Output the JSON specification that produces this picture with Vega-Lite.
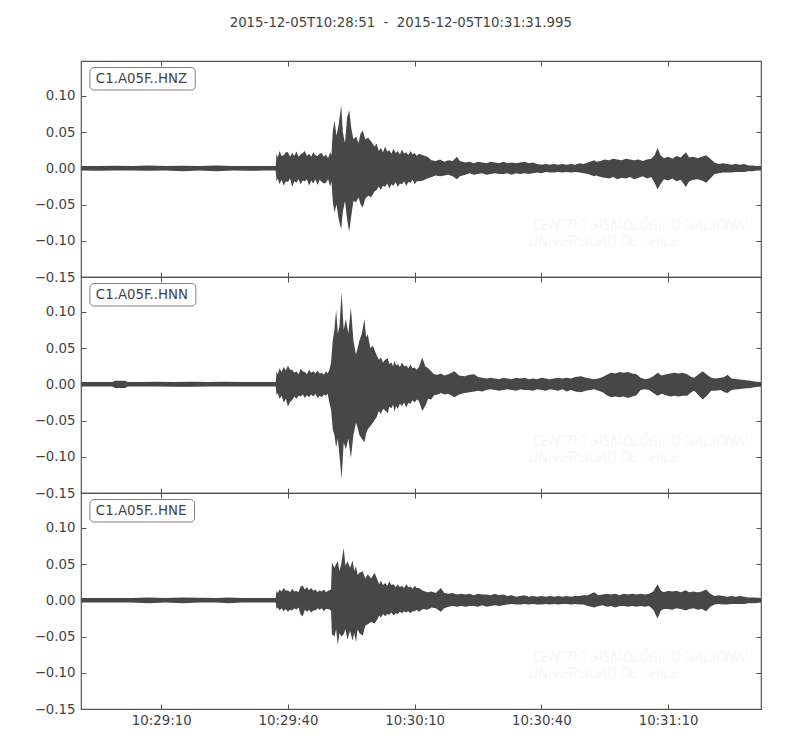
{
"$schema":"https://vega.github.io/schema/vega-lite/v6.json",
"padding":{"left":33,"top":15,"right":40,"bottom":20},
"spacing":0,
"bounds":"flush",
"title":{"text":"2015-12-05T10:28:51\u00a0 -\u00a0 2015-12-05T10:31:31.995","anchor":"middle","dx":3,"offset":31,"font":"DejaVu Sans","fontSize":13.33,"fontWeight":"normal","color":"#444444"},
"datasets":{"wm":[{"l1":"CENTRO SISMOLÓGICO NACIONAL","l2":"UNIVERSIDAD DE CHILE"}]},
"data":{"values":[
{"c":"Z","t":0,"hi":0.003,"lo":-0.003},{"c":"Z","t":4,"hi":0.003,"lo":-0.0035},{"c":"Z","t":8,"hi":0.0035,"lo":-0.003},{"c":"Z","t":12,"hi":0.003,"lo":-0.003},{"c":"Z","t":16,"hi":0.004,"lo":-0.0035},{"c":"Z","t":20,"hi":0.003,"lo":-0.003},{"c":"Z","t":24,"hi":0.0035,"lo":-0.004},{"c":"Z","t":28,"hi":0.003,"lo":-0.003},{"c":"Z","t":32,"hi":0.004,"lo":-0.004},{"c":"Z","t":36,"hi":0.003,"lo":-0.003},{"c":"Z","t":40,"hi":0.003,"lo":-0.0035},{"c":"Z","t":44,"hi":0.003,"lo":-0.003},{"c":"Z","t":46.1,"hi":0.003,"lo":-0.003},
{"c":"Z","t":46.3,"hi":0.020,"lo":-0.018},{"c":"Z","t":47,"hi":0.024,"lo":-0.022},{"c":"Z","t":48,"hi":0.018,"lo":-0.024},{"c":"Z","t":49,"hi":0.022,"lo":-0.019},{"c":"Z","t":50,"hi":0.021,"lo":-0.026},{"c":"Z","t":51,"hi":0.023,"lo":-0.020},{"c":"Z","t":52,"hi":0.019,"lo":-0.022},{"c":"Z","t":53,"hi":0.024,"lo":-0.018},{"c":"Z","t":54,"hi":0.020,"lo":-0.024},{"c":"Z","t":55,"hi":0.022,"lo":-0.021},{"c":"Z","t":56,"hi":0.017,"lo":-0.023},{"c":"Z","t":57,"hi":0.021,"lo":-0.019},{"c":"Z","t":58,"hi":0.019,"lo":-0.020},{"c":"Z","t":59,"hi":0.022,"lo":-0.025},
{"c":"Z","t":46.6,"hi":0.015,"lo":-0.014},{"c":"Z","t":47.5,"hi":0.017,"lo":-0.016},{"c":"Z","t":48.5,"hi":0.022,"lo":-0.018},{"c":"Z","t":49.5,"hi":0.016,"lo":-0.014},{"c":"Z","t":50.5,"hi":0.017,"lo":-0.018},{"c":"Z","t":51.5,"hi":0.016,"lo":-0.015},{"c":"Z","t":52.5,"hi":0.021,"lo":-0.017},{"c":"Z","t":53.5,"hi":0.017,"lo":-0.015},{"c":"Z","t":54.5,"hi":0.016,"lo":-0.017},{"c":"Z","t":55.5,"hi":0.018,"lo":-0.015},{"c":"Z","t":56.5,"hi":0.020,"lo":-0.016},{"c":"Z","t":57.5,"hi":0.016,"lo":-0.021},{"c":"Z","t":58.5,"hi":0.014,"lo":-0.015},{"c":"Z","t":59.3,"hi":0.018,"lo":-0.018},
{"c":"Z","t":59.6,"hi":0.050,"lo":-0.045},{"c":"Z","t":60,"hi":0.066,"lo":-0.061},{"c":"Z","t":60.5,"hi":0.045,"lo":-0.050},{"c":"Z","t":61,"hi":0.060,"lo":-0.070},{"c":"Z","t":61.6,"hi":0.087,"lo":-0.084},{"c":"Z","t":62,"hi":0.050,"lo":-0.060},{"c":"Z","t":62.5,"hi":0.035,"lo":-0.045},{"c":"Z","t":63,"hi":0.070,"lo":-0.070},{"c":"Z","t":63.5,"hi":0.080,"lo":-0.088},{"c":"Z","t":64,"hi":0.055,"lo":-0.065},{"c":"Z","t":64.5,"hi":0.040,"lo":-0.045},{"c":"Z","t":65.1,"hi":0.044,"lo":-0.047},{"c":"Z","t":65.7,"hi":0.035,"lo":-0.040},{"c":"Z","t":66.2,"hi":0.048,"lo":-0.050},{"c":"Z","t":66.7,"hi":0.052,"lo":-0.054},{"c":"Z","t":67.3,"hi":0.040,"lo":-0.042},{"c":"Z","t":68,"hi":0.042,"lo":-0.038},{"c":"Z","t":68.7,"hi":0.037,"lo":-0.040},{"c":"Z","t":69.5,"hi":0.030,"lo":-0.032},{"c":"Z","t":70,"hi":0.034,"lo":-0.030},{"c":"Z","t":71,"hi":0.028,"lo":-0.030},{"c":"Z","t":72,"hi":0.030,"lo":-0.026},{"c":"Z","t":73,"hi":0.025,"lo":-0.028},{"c":"Z","t":74,"hi":0.027,"lo":-0.024},{"c":"Z","t":75,"hi":0.024,"lo":-0.026},{"c":"Z","t":76,"hi":0.026,"lo":-0.022},{"c":"Z","t":77,"hi":0.022,"lo":-0.024},{"c":"Z","t":78,"hi":0.024,"lo":-0.020},{"c":"Z","t":79,"hi":0.021,"lo":-0.022},{"c":"Z","t":80,"hi":0.020,"lo":-0.018},
{"c":"Z","t":70.5,"hi":0.024,"lo":-0.025},{"c":"Z","t":71.5,"hi":0.022,"lo":-0.024},{"c":"Z","t":72.5,"hi":0.023,"lo":-0.021},{"c":"Z","t":73.5,"hi":0.020,"lo":-0.022},{"c":"Z","t":74.5,"hi":0.021,"lo":-0.019},{"c":"Z","t":75.5,"hi":0.019,"lo":-0.021},{"c":"Z","t":76.5,"hi":0.020,"lo":-0.018},{"c":"Z","t":77.5,"hi":0.018,"lo":-0.019},{"c":"Z","t":78.5,"hi":0.019,"lo":-0.016},{"c":"Z","t":79.5,"hi":0.017,"lo":-0.018},
{"c":"Z","t":81,"hi":0.018,"lo":-0.017},{"c":"Z","t":82,"hi":0.016,"lo":-0.014},{"c":"Z","t":83,"hi":0.011,"lo":-0.012},{"c":"Z","t":84,"hi":0.010,"lo":-0.010},{"c":"Z","t":85,"hi":0.012,"lo":-0.011},{"c":"Z","t":86,"hi":0.009,"lo":-0.010},{"c":"Z","t":87,"hi":0.011,"lo":-0.009},{"c":"Z","t":88,"hi":0.010,"lo":-0.011},{"c":"Z","t":89,"hi":0.016,"lo":-0.015},{"c":"Z","t":89.7,"hi":0.010,"lo":-0.011},{"c":"Z","t":91,"hi":0.008,"lo":-0.009},{"c":"Z","t":92,"hi":0.009,"lo":-0.007},{"c":"Z","t":93,"hi":0.007,"lo":-0.009},{"c":"Z","t":94,"hi":0.009,"lo":-0.008},{"c":"Z","t":95,"hi":0.008,"lo":-0.007},{"c":"Z","t":96,"hi":0.007,"lo":-0.009},{"c":"Z","t":97,"hi":0.009,"lo":-0.008},{"c":"Z","t":98,"hi":0.008,"lo":-0.007},{"c":"Z","t":99,"hi":0.007,"lo":-0.008},{"c":"Z","t":100,"hi":0.009,"lo":-0.008},{"c":"Z","t":101,"hi":0.007,"lo":-0.007},{"c":"Z","t":102,"hi":0.008,"lo":-0.009},{"c":"Z","t":103,"hi":0.007,"lo":-0.007},{"c":"Z","t":104,"hi":0.008,"lo":-0.008},{"c":"Z","t":105,"hi":0.009,"lo":-0.007},{"c":"Z","t":106,"hi":0.007,"lo":-0.008},{"c":"Z","t":107,"hi":0.008,"lo":-0.007},{"c":"Z","t":108,"hi":0.006,"lo":-0.006},{"c":"Z","t":109,"hi":0.005,"lo":-0.007},{"c":"Z","t":110,"hi":0.006,"lo":-0.005},{"c":"Z","t":111,"hi":0.005,"lo":-0.006},{"c":"Z","t":112,"hi":0.006,"lo":-0.006},{"c":"Z","t":113,"hi":0.005,"lo":-0.005},{"c":"Z","t":114,"hi":0.006,"lo":-0.006},{"c":"Z","t":115,"hi":0.005,"lo":-0.005},{"c":"Z","t":116,"hi":0.006,"lo":-0.006},{"c":"Z","t":117,"hi":0.005,"lo":-0.005},{"c":"Z","t":118,"hi":0.007,"lo":-0.006},{"c":"Z","t":119,"hi":0.006,"lo":-0.007},{"c":"Z","t":120,"hi":0.008,"lo":-0.008},
{"c":"Z","t":121,"hi":0.010,"lo":-0.010},{"c":"Z","t":121.5,"hi":0.011,"lo":-0.011},{"c":"Z","t":122,"hi":0.009,"lo":-0.010},{"c":"Z","t":123,"hi":0.010,"lo":-0.012},{"c":"Z","t":124,"hi":0.012,"lo":-0.013},{"c":"Z","t":125,"hi":0.011,"lo":-0.014},{"c":"Z","t":126,"hi":0.013,"lo":-0.012},{"c":"Z","t":127,"hi":0.012,"lo":-0.015},{"c":"Z","t":128,"hi":0.011,"lo":-0.013},{"c":"Z","t":129,"hi":0.013,"lo":-0.014},{"c":"Z","t":130,"hi":0.012,"lo":-0.012},{"c":"Z","t":131,"hi":0.011,"lo":-0.015},{"c":"Z","t":132,"hi":0.012,"lo":-0.013},{"c":"Z","t":133,"hi":0.010,"lo":-0.011},{"c":"Z","t":134,"hi":0.012,"lo":-0.014},{"c":"Z","t":135,"hi":0.013,"lo":-0.012},{"c":"Z","t":135.8,"hi":0.018,"lo":-0.020},{"c":"Z","t":136.5,"hi":0.028,"lo":-0.029},{"c":"Z","t":137.2,"hi":0.018,"lo":-0.022},{"c":"Z","t":138,"hi":0.014,"lo":-0.015},{"c":"Z","t":139,"hi":0.016,"lo":-0.017},{"c":"Z","t":140,"hi":0.013,"lo":-0.014},{"c":"Z","t":141,"hi":0.017,"lo":-0.018},{"c":"Z","t":142,"hi":0.015,"lo":-0.016},{"c":"Z","t":143.2,"hi":0.022,"lo":-0.026},{"c":"Z","t":144,"hi":0.015,"lo":-0.018},{"c":"Z","t":145,"hi":0.016,"lo":-0.016},{"c":"Z","t":146,"hi":0.014,"lo":-0.015},{"c":"Z","t":147,"hi":0.016,"lo":-0.017},{"c":"Z","t":148,"hi":0.018,"lo":-0.020},{"c":"Z","t":149,"hi":0.013,"lo":-0.014},{"c":"Z","t":150,"hi":0.008,"lo":-0.008},{"c":"Z","t":151,"hi":0.006,"lo":-0.007},{"c":"Z","t":152,"hi":0.007,"lo":-0.006},{"c":"Z","t":153,"hi":0.006,"lo":-0.006},{"c":"Z","t":154,"hi":0.005,"lo":-0.006},{"c":"Z","t":155,"hi":0.006,"lo":-0.005},{"c":"Z","t":156,"hi":0.005,"lo":-0.005},{"c":"Z","t":157,"hi":0.006,"lo":-0.005},{"c":"Z","t":158,"hi":0.004,"lo":-0.004},{"c":"Z","t":159,"hi":0.004,"lo":-0.004},{"c":"Z","t":160,"hi":0.003,"lo":-0.003},{"c":"Z","t":160.99,"hi":0.003,"lo":-0.003},

{"c":"N","t":0,"hi":0.003,"lo":-0.003},{"c":"N","t":4,"hi":0.003,"lo":-0.003},{"c":"N","t":7.5,"hi":0.003,"lo":-0.003},{"c":"N","t":8,"hi":0.005,"lo":-0.005},{"c":"N","t":10.5,"hi":0.005,"lo":-0.005},{"c":"N","t":11,"hi":0.003,"lo":-0.003},{"c":"N","t":14,"hi":0.003,"lo":-0.003},{"c":"N","t":18,"hi":0.0035,"lo":-0.003},{"c":"N","t":22,"hi":0.003,"lo":-0.0035},{"c":"N","t":26,"hi":0.0035,"lo":-0.0035},{"c":"N","t":30,"hi":0.003,"lo":-0.003},{"c":"N","t":34,"hi":0.0035,"lo":-0.003},{"c":"N","t":38,"hi":0.003,"lo":-0.003},{"c":"N","t":42,"hi":0.003,"lo":-0.003},{"c":"N","t":46.1,"hi":0.003,"lo":-0.003},
{"c":"N","t":46.3,"hi":0.018,"lo":-0.015},{"c":"N","t":47,"hi":0.022,"lo":-0.020},{"c":"N","t":48,"hi":0.024,"lo":-0.025},{"c":"N","t":49,"hi":0.026,"lo":-0.031},{"c":"N","t":50,"hi":0.020,"lo":-0.022},{"c":"N","t":51,"hi":0.018,"lo":-0.020},{"c":"N","t":52,"hi":0.021,"lo":-0.017},{"c":"N","t":53,"hi":0.017,"lo":-0.019},{"c":"N","t":54,"hi":0.020,"lo":-0.018},{"c":"N","t":55,"hi":0.018,"lo":-0.017},{"c":"N","t":56,"hi":0.019,"lo":-0.019},{"c":"N","t":57,"hi":0.016,"lo":-0.018},{"c":"N","t":58,"hi":0.018,"lo":-0.016},{"c":"N","t":58.8,"hi":0.020,"lo":-0.025},
{"c":"N","t":46.6,"hi":0.014,"lo":-0.012},{"c":"N","t":47.5,"hi":0.017,"lo":-0.016},{"c":"N","t":48.5,"hi":0.019,"lo":-0.020},{"c":"N","t":49.5,"hi":0.020,"lo":-0.024},{"c":"N","t":50.5,"hi":0.016,"lo":-0.017},{"c":"N","t":51.5,"hi":0.014,"lo":-0.016},{"c":"N","t":52.5,"hi":0.018,"lo":-0.014},{"c":"N","t":53.5,"hi":0.014,"lo":-0.015},{"c":"N","t":54.5,"hi":0.016,"lo":-0.014},{"c":"N","t":55.5,"hi":0.015,"lo":-0.013},{"c":"N","t":56.5,"hi":0.015,"lo":-0.016},{"c":"N","t":57.5,"hi":0.013,"lo":-0.014},{"c":"N","t":58.4,"hi":0.015,"lo":-0.013},
{"c":"N","t":59.2,"hi":0.030,"lo":-0.035},{"c":"N","t":59.6,"hi":0.060,"lo":-0.062},{"c":"N","t":60,"hi":0.075,"lo":-0.070},{"c":"N","t":60.4,"hi":0.103,"lo":-0.087},{"c":"N","t":60.8,"hi":0.070,"lo":-0.075},{"c":"N","t":61.2,"hi":0.080,"lo":-0.099},{"c":"N","t":61.7,"hi":0.127,"lo":-0.131},{"c":"N","t":62.2,"hi":0.075,"lo":-0.080},{"c":"N","t":62.7,"hi":0.090,"lo":-0.090},{"c":"N","t":63.3,"hi":0.070,"lo":-0.075},{"c":"N","t":63.9,"hi":0.106,"lo":-0.102},{"c":"N","t":64.5,"hi":0.060,"lo":-0.070},{"c":"N","t":65.1,"hi":0.041,"lo":-0.053},{"c":"N","t":65.5,"hi":0.050,"lo":-0.060},{"c":"N","t":65.9,"hi":0.060,"lo":-0.070},{"c":"N","t":66.5,"hi":0.070,"lo":-0.075},{"c":"N","t":67.1,"hi":0.090,"lo":-0.080},{"c":"N","t":67.5,"hi":0.065,"lo":-0.068},{"c":"N","t":67.9,"hi":0.069,"lo":-0.062},{"c":"N","t":68.5,"hi":0.050,"lo":-0.058},{"c":"N","t":69.1,"hi":0.053,"lo":-0.053},{"c":"N","t":70,"hi":0.040,"lo":-0.045},{"c":"N","t":71,"hi":0.037,"lo":-0.041},{"c":"N","t":72,"hi":0.034,"lo":-0.036},{"c":"N","t":72.6,"hi":0.036,"lo":-0.040},{"c":"N","t":73.5,"hi":0.030,"lo":-0.033},{"c":"N","t":74.2,"hi":0.032,"lo":-0.038},{"c":"N","t":75,"hi":0.028,"lo":-0.034},{"c":"N","t":76,"hi":0.030,"lo":-0.030},{"c":"N","t":77,"hi":0.026,"lo":-0.032},{"c":"N","t":78,"hi":0.027,"lo":-0.027},{"c":"N","t":79,"hi":0.023,"lo":-0.025},{"c":"N","t":80,"hi":0.024,"lo":-0.023},
{"c":"N","t":70.5,"hi":0.034,"lo":-0.037},{"c":"N","t":71.5,"hi":0.030,"lo":-0.034},{"c":"N","t":73,"hi":0.028,"lo":-0.031},{"c":"N","t":73.9,"hi":0.025,"lo":-0.028},{"c":"N","t":74.6,"hi":0.026,"lo":-0.030},{"c":"N","t":75.5,"hi":0.024,"lo":-0.027},{"c":"N","t":76.5,"hi":0.025,"lo":-0.025},{"c":"N","t":77.5,"hi":0.022,"lo":-0.026},{"c":"N","t":78.5,"hi":0.022,"lo":-0.022},{"c":"N","t":79.5,"hi":0.020,"lo":-0.021},
{"c":"N","t":80.8,"hi":0.037,"lo":-0.037},{"c":"N","t":81.5,"hi":0.025,"lo":-0.030},{"c":"N","t":82.2,"hi":0.022,"lo":-0.020},{"c":"N","t":82.9,"hi":0.018,"lo":-0.021},{"c":"N","t":83.6,"hi":0.014,"lo":-0.015},{"c":"N","t":84.4,"hi":0.013,"lo":-0.014},{"c":"N","t":85.2,"hi":0.015,"lo":-0.012},{"c":"N","t":86,"hi":0.012,"lo":-0.014},{"c":"N","t":87,"hi":0.014,"lo":-0.013},{"c":"N","t":88.4,"hi":0.018,"lo":-0.018},{"c":"N","t":89.5,"hi":0.012,"lo":-0.014},{"c":"N","t":90.8,"hi":0.011,"lo":-0.012},{"c":"N","t":92,"hi":0.013,"lo":-0.011},{"c":"N","t":93.1,"hi":0.014,"lo":-0.010},{"c":"N","t":94,"hi":0.010,"lo":-0.009},{"c":"N","t":95,"hi":0.009,"lo":-0.010},{"c":"N","t":96,"hi":0.008,"lo":-0.008},{"c":"N","t":97,"hi":0.009,"lo":-0.007},{"c":"N","t":98,"hi":0.008,"lo":-0.008},{"c":"N","t":99,"hi":0.007,"lo":-0.009},{"c":"N","t":100,"hi":0.009,"lo":-0.008},{"c":"N","t":101,"hi":0.008,"lo":-0.007},{"c":"N","t":102,"hi":0.007,"lo":-0.008},{"c":"N","t":103,"hi":0.009,"lo":-0.009},{"c":"N","t":104,"hi":0.008,"lo":-0.007},{"c":"N","t":105,"hi":0.009,"lo":-0.008},{"c":"N","t":106,"hi":0.007,"lo":-0.008},{"c":"N","t":107,"hi":0.008,"lo":-0.009},{"c":"N","t":108,"hi":0.007,"lo":-0.007},{"c":"N","t":109,"hi":0.009,"lo":-0.008},{"c":"N","t":110,"hi":0.008,"lo":-0.009},{"c":"N","t":111,"hi":0.007,"lo":-0.007},{"c":"N","t":112,"hi":0.008,"lo":-0.008},{"c":"N","t":113,"hi":0.009,"lo":-0.009},{"c":"N","t":114,"hi":0.008,"lo":-0.007},{"c":"N","t":115,"hi":0.009,"lo":-0.010},{"c":"N","t":116,"hi":0.008,"lo":-0.008},{"c":"N","t":117,"hi":0.010,"lo":-0.010},{"c":"N","t":118.4,"hi":0.011,"lo":-0.011},{"c":"N","t":119.5,"hi":0.009,"lo":-0.009},{"c":"N","t":120.5,"hi":0.008,"lo":-0.008},{"c":"N","t":121.5,"hi":0.007,"lo":-0.007},{"c":"N","t":122.5,"hi":0.008,"lo":-0.009},{"c":"N","t":123.5,"hi":0.010,"lo":-0.011},{"c":"N","t":124.5,"hi":0.013,"lo":-0.015},{"c":"N","t":125.5,"hi":0.016,"lo":-0.018},{"c":"N","t":126.5,"hi":0.015,"lo":-0.017},{"c":"N","t":127.5,"hi":0.017,"lo":-0.018},{"c":"N","t":128.5,"hi":0.016,"lo":-0.017},{"c":"N","t":129.5,"hi":0.017,"lo":-0.019},{"c":"N","t":130.5,"hi":0.015,"lo":-0.017},{"c":"N","t":131.5,"hi":0.014,"lo":-0.015},{"c":"N","t":132.5,"hi":0.009,"lo":-0.008},{"c":"N","t":133.5,"hi":0.007,"lo":-0.007},{"c":"N","t":134.5,"hi":0.008,"lo":-0.008},{"c":"N","t":135.5,"hi":0.011,"lo":-0.012},{"c":"N","t":136.5,"hi":0.016,"lo":-0.016},{"c":"N","t":137.5,"hi":0.012,"lo":-0.013},{"c":"N","t":138.5,"hi":0.014,"lo":-0.015},{"c":"N","t":139.5,"hi":0.015,"lo":-0.017},{"c":"N","t":140.5,"hi":0.016,"lo":-0.016},{"c":"N","t":141.5,"hi":0.015,"lo":-0.017},{"c":"N","t":142.5,"hi":0.016,"lo":-0.016},{"c":"N","t":143.5,"hi":0.014,"lo":-0.016},{"c":"N","t":144.5,"hi":0.010,"lo":-0.011},{"c":"N","t":145.2,"hi":0.009,"lo":-0.009},{"c":"N","t":146.2,"hi":0.014,"lo":-0.015},{"c":"N","t":147.2,"hi":0.018,"lo":-0.021},{"c":"N","t":148.2,"hi":0.013,"lo":-0.016},{"c":"N","t":149.2,"hi":0.009,"lo":-0.009},{"c":"N","t":150.2,"hi":0.008,"lo":-0.009},{"c":"N","t":151.5,"hi":0.009,"lo":-0.008},{"c":"N","t":152.3,"hi":0.010,"lo":-0.011},{"c":"N","t":153.1,"hi":0.013,"lo":-0.012},{"c":"N","t":154,"hi":0.008,"lo":-0.008},{"c":"N","t":155.5,"hi":0.007,"lo":-0.007},{"c":"N","t":157,"hi":0.006,"lo":-0.006},{"c":"N","t":158.5,"hi":0.005,"lo":-0.005},{"c":"N","t":159.4,"hi":0.004,"lo":-0.004},{"c":"N","t":160.99,"hi":0.003,"lo":-0.003},

{"c":"E","t":0,"hi":0.003,"lo":-0.003},{"c":"E","t":4,"hi":0.003,"lo":-0.003},{"c":"E","t":8,"hi":0.003,"lo":-0.003},{"c":"E","t":12,"hi":0.003,"lo":-0.003},{"c":"E","t":16,"hi":0.004,"lo":-0.004},{"c":"E","t":20,"hi":0.003,"lo":-0.003},{"c":"E","t":24,"hi":0.004,"lo":-0.004},{"c":"E","t":28,"hi":0.0035,"lo":-0.003},{"c":"E","t":32,"hi":0.003,"lo":-0.003},{"c":"E","t":35,"hi":0.004,"lo":-0.004},{"c":"E","t":38,"hi":0.003,"lo":-0.003},{"c":"E","t":42,"hi":0.003,"lo":-0.003},{"c":"E","t":46.1,"hi":0.003,"lo":-0.003},
{"c":"E","t":46.3,"hi":0.013,"lo":-0.012},{"c":"E","t":47,"hi":0.015,"lo":-0.014},{"c":"E","t":48,"hi":0.017,"lo":-0.015},{"c":"E","t":49,"hi":0.014,"lo":-0.016},{"c":"E","t":50,"hi":0.016,"lo":-0.014},{"c":"E","t":51,"hi":0.013,"lo":-0.013},{"c":"E","t":52,"hi":0.019,"lo":-0.020},{"c":"E","t":52.5,"hi":0.020,"lo":-0.022},{"c":"E","t":53.5,"hi":0.018,"lo":-0.016},{"c":"E","t":54.5,"hi":0.017,"lo":-0.017},{"c":"E","t":55.5,"hi":0.015,"lo":-0.014},{"c":"E","t":56.5,"hi":0.014,"lo":-0.013},{"c":"E","t":57.5,"hi":0.015,"lo":-0.015},{"c":"E","t":58.5,"hi":0.013,"lo":-0.012},{"c":"E","t":59.2,"hi":0.015,"lo":-0.014},
{"c":"E","t":46.6,"hi":0.010,"lo":-0.010},{"c":"E","t":47.5,"hi":0.012,"lo":-0.011},{"c":"E","t":48.5,"hi":0.013,"lo":-0.012},{"c":"E","t":49.5,"hi":0.011,"lo":-0.013},{"c":"E","t":50.5,"hi":0.012,"lo":-0.011},{"c":"E","t":51.5,"hi":0.011,"lo":-0.010},{"c":"E","t":53,"hi":0.015,"lo":-0.013},{"c":"E","t":54,"hi":0.014,"lo":-0.013},{"c":"E","t":55,"hi":0.013,"lo":-0.014},{"c":"E","t":56,"hi":0.011,"lo":-0.011},{"c":"E","t":57,"hi":0.012,"lo":-0.011},{"c":"E","t":58,"hi":0.011,"lo":-0.012},
{"c":"E","t":59.4,"hi":0.052,"lo":-0.047},{"c":"E","t":60,"hi":0.045,"lo":-0.050},{"c":"E","t":60.4,"hi":0.050,"lo":-0.040},{"c":"E","t":60.8,"hi":0.054,"lo":-0.062},{"c":"E","t":61.2,"hi":0.040,"lo":-0.045},{"c":"E","t":61.6,"hi":0.050,"lo":-0.050},{"c":"E","t":62.2,"hi":0.072,"lo":-0.047},{"c":"E","t":62.6,"hi":0.048,"lo":-0.040},{"c":"E","t":63.1,"hi":0.054,"lo":-0.054},{"c":"E","t":63.7,"hi":0.045,"lo":-0.042},{"c":"E","t":64.3,"hi":0.055,"lo":-0.056},{"c":"E","t":64.7,"hi":0.040,"lo":-0.045},{"c":"E","t":65.1,"hi":0.047,"lo":-0.058},{"c":"E","t":65.5,"hi":0.035,"lo":-0.040},{"c":"E","t":65.9,"hi":0.038,"lo":-0.045},{"c":"E","t":66.7,"hi":0.040,"lo":-0.049},{"c":"E","t":67.3,"hi":0.030,"lo":-0.035},{"c":"E","t":67.9,"hi":0.036,"lo":-0.033},{"c":"E","t":68.7,"hi":0.030,"lo":-0.030},{"c":"E","t":69.5,"hi":0.038,"lo":-0.032},{"c":"E","t":70.2,"hi":0.028,"lo":-0.026},{"c":"E","t":71,"hi":0.027,"lo":-0.024},{"c":"E","t":72,"hi":0.024,"lo":-0.022},{"c":"E","t":73,"hi":0.026,"lo":-0.020},{"c":"E","t":74,"hi":0.022,"lo":-0.021},{"c":"E","t":75,"hi":0.022,"lo":-0.019},{"c":"E","t":76,"hi":0.020,"lo":-0.018},{"c":"E","t":77,"hi":0.022,"lo":-0.017},{"c":"E","t":78,"hi":0.019,"lo":-0.018},{"c":"E","t":79,"hi":0.020,"lo":-0.015},{"c":"E","t":80,"hi":0.017,"lo":-0.016},
{"c":"E","t":70.6,"hi":0.022,"lo":-0.021},{"c":"E","t":71.5,"hi":0.021,"lo":-0.019},{"c":"E","t":72.5,"hi":0.020,"lo":-0.019},{"c":"E","t":73.5,"hi":0.021,"lo":-0.017},{"c":"E","t":74.5,"hi":0.018,"lo":-0.018},{"c":"E","t":75.5,"hi":0.018,"lo":-0.016},{"c":"E","t":76.5,"hi":0.017,"lo":-0.015},{"c":"E","t":77.5,"hi":0.018,"lo":-0.015},{"c":"E","t":78.5,"hi":0.016,"lo":-0.015},{"c":"E","t":79.5,"hi":0.017,"lo":-0.013},
{"c":"E","t":81,"hi":0.013,"lo":-0.012},{"c":"E","t":82,"hi":0.011,"lo":-0.013},{"c":"E","t":83,"hi":0.012,"lo":-0.010},{"c":"E","t":84,"hi":0.010,"lo":-0.011},{"c":"E","t":85.2,"hi":0.017,"lo":-0.016},{"c":"E","t":86,"hi":0.010,"lo":-0.011},{"c":"E","t":87,"hi":0.009,"lo":-0.009},{"c":"E","t":88,"hi":0.010,"lo":-0.008},{"c":"E","t":89,"hi":0.008,"lo":-0.009},{"c":"E","t":90,"hi":0.009,"lo":-0.008},{"c":"E","t":91,"hi":0.008,"lo":-0.009},{"c":"E","t":92,"hi":0.009,"lo":-0.008},{"c":"E","t":93,"hi":0.007,"lo":-0.008},{"c":"E","t":94,"hi":0.009,"lo":-0.009},{"c":"E","t":95,"hi":0.008,"lo":-0.007},{"c":"E","t":96,"hi":0.008,"lo":-0.009},{"c":"E","t":97,"hi":0.007,"lo":-0.008},{"c":"E","t":98,"hi":0.009,"lo":-0.007},{"c":"E","t":99,"hi":0.007,"lo":-0.008},{"c":"E","t":100,"hi":0.008,"lo":-0.007},{"c":"E","t":101,"hi":0.006,"lo":-0.006},{"c":"E","t":102,"hi":0.007,"lo":-0.005},{"c":"E","t":103,"hi":0.005,"lo":-0.006},{"c":"E","t":104,"hi":0.006,"lo":-0.006},{"c":"E","t":105,"hi":0.007,"lo":-0.005},{"c":"E","t":106,"hi":0.005,"lo":-0.006},{"c":"E","t":107,"hi":0.006,"lo":-0.005},{"c":"E","t":108,"hi":0.005,"lo":-0.006},{"c":"E","t":109,"hi":0.006,"lo":-0.006},{"c":"E","t":110,"hi":0.005,"lo":-0.005},{"c":"E","t":111,"hi":0.006,"lo":-0.006},{"c":"E","t":112,"hi":0.005,"lo":-0.005},{"c":"E","t":113,"hi":0.006,"lo":-0.006},{"c":"E","t":114,"hi":0.005,"lo":-0.005},{"c":"E","t":115,"hi":0.006,"lo":-0.005},{"c":"E","t":116,"hi":0.005,"lo":-0.006},{"c":"E","t":117,"hi":0.006,"lo":-0.005},{"c":"E","t":118,"hi":0.006,"lo":-0.006},{"c":"E","t":119,"hi":0.007,"lo":-0.006},{"c":"E","t":120,"hi":0.007,"lo":-0.008},{"c":"E","t":121.5,"hi":0.011,"lo":-0.010},{"c":"E","t":122.5,"hi":0.007,"lo":-0.008},{"c":"E","t":123.5,"hi":0.008,"lo":-0.007},{"c":"E","t":124.5,"hi":0.009,"lo":-0.009},{"c":"E","t":125.5,"hi":0.008,"lo":-0.008},{"c":"E","t":126.5,"hi":0.009,"lo":-0.010},{"c":"E","t":127.5,"hi":0.007,"lo":-0.008},{"c":"E","t":128.5,"hi":0.009,"lo":-0.008},{"c":"E","t":129.5,"hi":0.008,"lo":-0.009},{"c":"E","t":130.5,"hi":0.009,"lo":-0.008},{"c":"E","t":131.5,"hi":0.008,"lo":-0.009},{"c":"E","t":132.5,"hi":0.009,"lo":-0.008},{"c":"E","t":133.5,"hi":0.008,"lo":-0.009},{"c":"E","t":134.5,"hi":0.009,"lo":-0.008},{"c":"E","t":135.5,"hi":0.012,"lo":-0.013},{"c":"E","t":136.5,"hi":0.022,"lo":-0.025},{"c":"E","t":137.3,"hi":0.013,"lo":-0.014},{"c":"E","t":138,"hi":0.011,"lo":-0.012},{"c":"E","t":139,"hi":0.013,"lo":-0.012},{"c":"E","t":140,"hi":0.012,"lo":-0.013},{"c":"E","t":141,"hi":0.013,"lo":-0.011},{"c":"E","t":142,"hi":0.011,"lo":-0.012},{"c":"E","t":143.2,"hi":0.014,"lo":-0.014},{"c":"E","t":144,"hi":0.011,"lo":-0.012},{"c":"E","t":145,"hi":0.012,"lo":-0.011},{"c":"E","t":146,"hi":0.011,"lo":-0.013},{"c":"E","t":147,"hi":0.012,"lo":-0.012},{"c":"E","t":148,"hi":0.015,"lo":-0.015},{"c":"E","t":149,"hi":0.009,"lo":-0.009},{"c":"E","t":150,"hi":0.006,"lo":-0.006},{"c":"E","t":151,"hi":0.007,"lo":-0.005},{"c":"E","t":152,"hi":0.006,"lo":-0.006},{"c":"E","t":153,"hi":0.005,"lo":-0.006},{"c":"E","t":154,"hi":0.006,"lo":-0.005},{"c":"E","t":155,"hi":0.005,"lo":-0.005},{"c":"E","t":156,"hi":0.006,"lo":-0.005},{"c":"E","t":157,"hi":0.005,"lo":-0.005},{"c":"E","t":158,"hi":0.004,"lo":-0.004},{"c":"E","t":159.4,"hi":0.004,"lo":-0.004},{"c":"E","t":160.99,"hi":0.003,"lo":-0.003}
]},
"vconcat":[
{"width":680,"height":216,"resolve":{"axis":{"x":"independent","y":"independent"}},
 "layer":[
  {"data":{"name":"wm"},"mark":{"type":"text","align":"left","baseline":"middle","font":"Roboto","fontStyle":"italic","fontWeight":300,"fontSize":14.5,"color":"#f6f6f6"},
   "encoding":{"x":{"datum":107,"type":"quantitative","scale":{"domain":[0,160.995],"nice":false,"zero":false},"axis":{"orient":"top","values":[19,49,79,109,139],"labels":false,"title":null}},"y":{"datum":-0.079,"type":"quantitative","scale":{"domain":[-0.15,0.148],"nice":false,"zero":false},"axis":{"orient":"right","values":[-0.15,-0.1,-0.05,0,0.05,0.1],"labels":false,"title":null}},"text":{"field":"l1"}}},
  {"data":{"name":"wm"},"mark":{"type":"text","align":"left","baseline":"middle","font":"Roboto","fontStyle":"italic","fontWeight":300,"fontSize":14.5,"color":"#f6f6f6"},
   "encoding":{"x":{"datum":106,"type":"quantitative","axis":null},"y":{"datum":-0.102,"type":"quantitative","axis":null},"text":{"field":"l2"}}},
  {"transform":[{"filter":"datum.c==='Z'"}],"mark":{"type":"area","color":"#474747"},
   "encoding":{"x":{"field":"t","type":"quantitative","scale":{"domain":[0,160.995],"nice":false,"zero":false},"axis":{"orient":"bottom","values":[19,49,79,109,139],"labels":false,"title":null}},
     "y":{"field":"hi","type":"quantitative","scale":{"domain":[-0.15,0.148],"nice":false,"zero":false},"axis":{"orient":"left","values":[-0.15,-0.1,-0.05,0,0.05,0.1],"format":".2f","title":null}},
     "y2":{"field":"lo"}}},
  {"data":{"values":[{"label":"C1.A05F..HNZ"}]},"mark":{"type":"rect","fill":"white","stroke":"#808080","strokeWidth":1,"cornerRadius":4},
   "encoding":{"x":{"datum":2.1,"type":"quantitative","axis":null},"x2":{"datum":27.05},"y":{"datum":0.108,"type":"quantitative","axis":null},"y2":{"datum":0.139}}},
  {"data":{"values":[{"label":"C1.A05F..HNZ"}]},"mark":{"type":"text","align":"left","baseline":"middle","font":"DejaVu Sans","fontSize":13.33,"color":"#444444"},
   "encoding":{"x":{"datum":3.52,"type":"quantitative","axis":null},"y":{"datum":0.1235,"type":"quantitative","axis":null},"text":{"field":"label"}}}
 ]},
{"width":680,"height":216,"resolve":{"axis":{"x":"independent","y":"independent"}},
 "layer":[
  {"data":{"name":"wm"},"mark":{"type":"text","align":"left","baseline":"middle","font":"Roboto","fontStyle":"italic","fontWeight":300,"fontSize":14.5,"color":"#f6f6f6"},
   "encoding":{"x":{"datum":107,"type":"quantitative","scale":{"domain":[0,160.995],"nice":false,"zero":false},"axis":{"orient":"top","values":[19,49,79,109,139],"labels":false,"title":null}},"y":{"datum":-0.079,"type":"quantitative","scale":{"domain":[-0.15,0.148],"nice":false,"zero":false},"axis":{"orient":"right","values":[-0.15,-0.1,-0.05,0,0.05,0.1],"labels":false,"title":null}},"text":{"field":"l1"}}},
  {"data":{"name":"wm"},"mark":{"type":"text","align":"left","baseline":"middle","font":"Roboto","fontStyle":"italic","fontWeight":300,"fontSize":14.5,"color":"#f6f6f6"},
   "encoding":{"x":{"datum":106,"type":"quantitative","axis":null},"y":{"datum":-0.102,"type":"quantitative","axis":null},"text":{"field":"l2"}}},
  {"transform":[{"filter":"datum.c==='N'"}],"mark":{"type":"area","color":"#474747"},
   "encoding":{"x":{"field":"t","type":"quantitative","scale":{"domain":[0,160.995],"nice":false,"zero":false},"axis":{"orient":"bottom","values":[19,49,79,109,139],"labels":false,"title":null}},
     "y":{"field":"hi","type":"quantitative","scale":{"domain":[-0.15,0.148],"nice":false,"zero":false},"axis":{"orient":"left","values":[-0.15,-0.1,-0.05,0,0.05,0.1],"format":".2f","title":null}},
     "y2":{"field":"lo"}}},
  {"data":{"values":[{"label":"C1.A05F..HNN"}]},"mark":{"type":"rect","fill":"white","stroke":"#808080","strokeWidth":1,"cornerRadius":4},
   "encoding":{"x":{"datum":2.1,"type":"quantitative","axis":null},"x2":{"datum":27.2},"y":{"datum":0.108,"type":"quantitative","axis":null},"y2":{"datum":0.139}}},
  {"data":{"values":[{"label":"C1.A05F..HNN"}]},"mark":{"type":"text","align":"left","baseline":"middle","font":"DejaVu Sans","fontSize":13.33,"color":"#444444"},
   "encoding":{"x":{"datum":3.52,"type":"quantitative","axis":null},"y":{"datum":0.1235,"type":"quantitative","axis":null},"text":{"field":"label"}}}
 ]},
{"width":680,"height":216,"resolve":{"axis":{"x":"independent","y":"independent"}},
 "layer":[
  {"data":{"name":"wm"},"mark":{"type":"text","align":"left","baseline":"middle","font":"Roboto","fontStyle":"italic","fontWeight":300,"fontSize":14.5,"color":"#f6f6f6"},
   "encoding":{"x":{"datum":107,"type":"quantitative","scale":{"domain":[0,160.995],"nice":false,"zero":false},"axis":{"orient":"top","values":[19,49,79,109,139],"labels":false,"title":null}},"y":{"datum":-0.079,"type":"quantitative","scale":{"domain":[-0.15,0.148],"nice":false,"zero":false},"axis":{"orient":"right","values":[-0.15,-0.1,-0.05,0,0.05,0.1],"labels":false,"title":null}},"text":{"field":"l1"}}},
  {"data":{"name":"wm"},"mark":{"type":"text","align":"left","baseline":"middle","font":"Roboto","fontStyle":"italic","fontWeight":300,"fontSize":14.5,"color":"#f6f6f6"},
   "encoding":{"x":{"datum":106,"type":"quantitative","axis":null},"y":{"datum":-0.102,"type":"quantitative","axis":null},"text":{"field":"l2"}}},
  {"transform":[{"filter":"datum.c==='E'"}],"mark":{"type":"area","color":"#474747"},
   "encoding":{"x":{"field":"t","type":"quantitative","scale":{"domain":[0,160.995],"nice":false,"zero":false},"axis":{"orient":"bottom","values":[19,49,79,109,139],"title":null,"labelExpr":"timeFormat(datetime(2015, 11, 5, 10, 28, 51 + datum.value), '%H:%M:%S')"}},
     "y":{"field":"hi","type":"quantitative","scale":{"domain":[-0.15,0.148],"nice":false,"zero":false},"axis":{"orient":"left","values":[-0.15,-0.1,-0.05,0,0.05,0.1],"format":".2f","title":null}},
     "y2":{"field":"lo"}}},
  {"data":{"values":[{"label":"C1.A05F..HNE"}]},"mark":{"type":"rect","fill":"white","stroke":"#808080","strokeWidth":1,"cornerRadius":4},
   "encoding":{"x":{"datum":2.1,"type":"quantitative","axis":null},"x2":{"datum":26.9},"y":{"datum":0.108,"type":"quantitative","axis":null},"y2":{"datum":0.139}}},
  {"data":{"values":[{"label":"C1.A05F..HNE"}]},"mark":{"type":"text","align":"left","baseline":"middle","font":"DejaVu Sans","fontSize":13.33,"color":"#444444"},
   "encoding":{"x":{"datum":3.52,"type":"quantitative","axis":null},"y":{"datum":0.1235,"type":"quantitative","axis":null},"text":{"field":"label"}}}
 ]}
],
"config":{
 "view":{"stroke":"#555555","strokeWidth":1.2},
 "axis":{"domain":false,"grid":false,"tickColor":"#555555","tickSize":-5,"tickWidth":1,"labelFont":"DejaVu Sans","labelFontSize":13.33,"labelColor":"#444444","labelFlush":false,"labelOverlap":false},
 "axisX":{"labelPadding":9},
 "axisY":{"labelPadding":11}
}
}
